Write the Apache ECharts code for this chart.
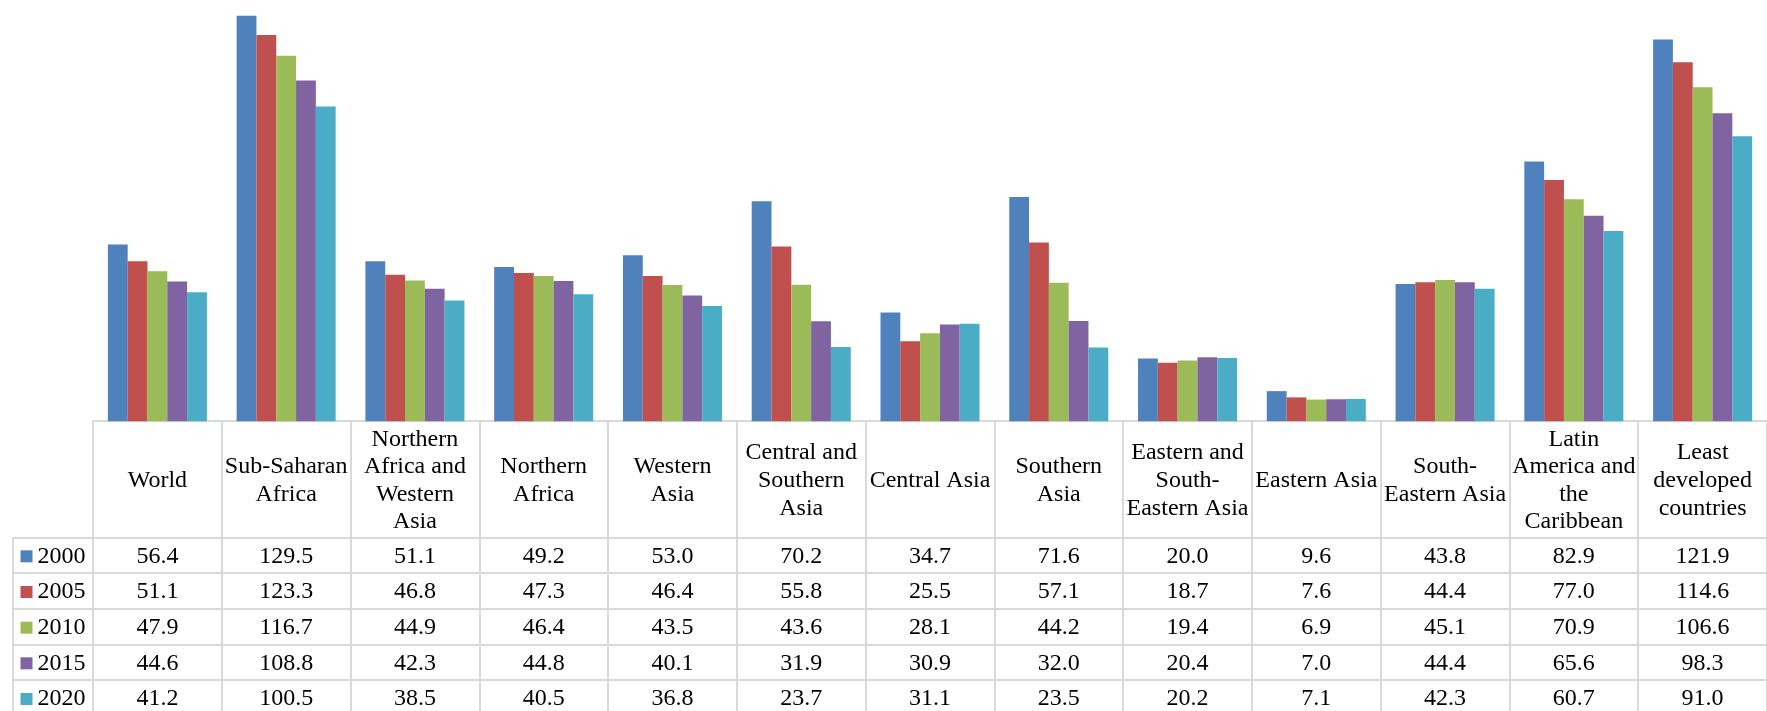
<!DOCTYPE html>
<html>
<head>
<meta charset="utf-8">
<script src="https://cdn.jsdelivr.net/npm/echarts@6/dist/echarts.min.js"></script>
<style>
html,body{margin:0;padding:0;background:#fff;}
#chart{width:1767px;height:711px;}
</style>
</head>
<body>
<div id="chart"></div>
<script>
const categories = ['World','Sub-Saharan\nAfrica','Northern\nAfrica and\nWestern\nAsia','Northern\nAfrica','Western\nAsia','Central and\nSouthern\nAsia','Central Asia','Southern\nAsia','Eastern and\nSouth-\nEastern Asia','Eastern Asia','South-\nEastern Asia','Latin\nAmerica and\nthe\nCaribbean','Least\ndeveloped\ncountries'];
const years = ['2000','2005','2010','2015','2020'];
const v2000 = [56.4,129.5,51.1,49.2,53.0,70.2,34.7,71.6,20.0,9.6,43.8,82.9,121.9];
const v2005 = [51.1,123.3,46.8,47.3,46.4,55.8,25.5,57.1,18.7,7.6,44.4,77.0,114.6];
const v2010 = [47.9,116.7,44.9,46.4,43.5,43.6,28.1,44.2,19.4,6.9,45.1,70.9,106.6];
const v2015 = [44.6,108.8,42.3,44.8,40.1,31.9,30.9,32.0,20.4,7.0,44.4,65.6,98.3];
const v2020 = [41.2,100.5,38.5,40.5,36.8,23.7,31.1,23.5,20.2,7.1,42.3,60.7,91.0];
const seriesValues = [v2000, v2005, v2010, v2015, v2020];
const colors = ['#4F81BD','#C0504D','#9BBB59','#8064A2','#4BACC6'];

const FONT = '"Liberation Serif", "Times New Roman", serif';
const FS = 24;
const LINE = {color:'#d9d9d9', width:2};
const HEADER_H = 116.3;
const ROW_H = 35.67;

const xAxes = [{
  type:'category', gridIndex:0, data:categories, position:'bottom',
  axisLine:{show:true, onZero:false, lineStyle:LINE},
  axisTick:{show:true, length:HEADER_H, lineStyle:LINE},
  axisLabel:{interval:0, margin:59.5, verticalAlign:'middle', fontSize:FS, lineHeight:27.6, fontFamily:FONT, color:'#000'}
}];
seriesValues.forEach((vals, i) => {
  xAxes.push({
    type:'category', gridIndex:0, data:categories, position:'bottom', offset:HEADER_H + i*ROW_H,
    axisLine:{show:true, onZero:false, lineStyle:LINE},
    axisTick:{show:true, length:ROW_H, lineStyle:LINE},
    axisLabel:{interval:0, margin:ROW_H/2 + 1, verticalAlign:'middle', fontSize:FS, fontFamily:FONT, color:'#000',
      formatter:(v, idx) => vals[idx].toFixed(1)}
  });
  const rich = {y:{fontSize:FS, fontFamily:FONT, color:'#000', padding:[0,0,0,5]}};
  rich['k' + i] = {width:12, height:12, backgroundColor:colors[i]};
  xAxes.push({
    type:'category', gridIndex:1, data:[years[i]], position:'bottom', offset:HEADER_H + i*ROW_H,
    axisLine:{show:true, onZero:false, lineStyle:LINE},
    axisTick:{show:true, length:ROW_H, lineStyle:LINE},
    axisLabel:{interval:0, margin:ROW_H/2 + 1, verticalAlign:'middle', fontSize:FS, fontFamily:FONT, color:'#000',
      formatter:(v) => '{k' + i + '|}{y|' + v + '}', rich:rich}
  });
});

const option = {
  animation:false,
  backgroundColor:'#fff',
  color:colors,
  grid:[
    {left:93, top:0, width:1686, height:422},
    {left:13, top:0, width:80, height:422}
  ],
  xAxis:xAxes,
  yAxis:[
    {type:'value', gridIndex:0, min:0, max:134.5, show:false},
    {type:'value', gridIndex:1, min:0, max:1, show:false}
  ],
  series:seriesValues.map((vals, i) => ({
    name:years[i], type:'bar', xAxisIndex:0, yAxisIndex:0, data:vals,
    barGap:'0%', barCategoryGap:'23.1%',
    itemStyle:{color:colors[i]}
  }))
};

const chart = echarts.init(document.getElementById('chart'), null, {renderer:'canvas'});
chart.setOption(option);
</script>
</body>
</html>
